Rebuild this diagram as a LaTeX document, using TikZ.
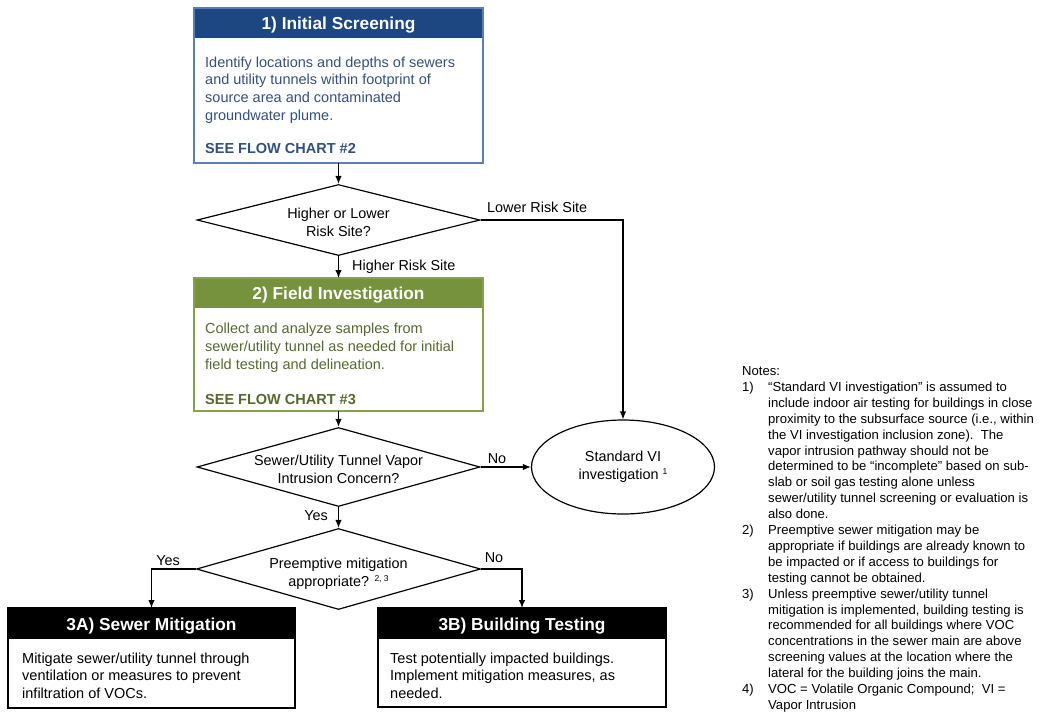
\documentclass[tikz,border=0pt]{standalone}
\usepackage{fontspec}
\setmainfont{Liberation Sans}
\usetikzlibrary{shapes.geometric,arrows.meta}
\definecolor{bluehdr}{HTML}{1D4780}
\definecolor{blueedge}{HTML}{5A7FB5}
\definecolor{bluetxt}{HTML}{34507F}
\definecolor{greenhdr}{HTML}{76923C}
\definecolor{greenedge}{HTML}{85A24E}
\definecolor{greentxt}{HTML}{56692F}
\newcommand{\supnum}[1]{\raisebox{4.5pt}{\fontsize{8.5}{9}\selectfont #1}}
\newcommand{\ind}{\hspace*{26pt}}
\newcommand{\num}[1]{\makebox[26pt][l]{#1}}
\begin{document}
\begin{tikzpicture}[x=1pt,y=-1pt,
  conn/.style={line width=1.2pt,-{Latex[length=8pt,width=6.5pt]}},
  lbl/.style={font=\fontsize{14.4}{17}\selectfont,inner sep=0pt},
  hdrbox/.style={anchor=north west,inner sep=0pt,outer sep=0pt,draw=none},
  hdrtitle/.style={text=white,font=\bfseries\fontsize{17.3}{20}\selectfont,inner sep=0pt},
  framebox/.style={anchor=north west,inner sep=0pt,outer sep=0pt,line width=2pt},
  bodytxt/.style={anchor=north west,inner sep=0pt,align=left,font=\fontsize{14.5}{17.7}\selectfont},
  seetxt/.style={anchor=base west,inner sep=0pt,font=\bfseries\fontsize{14.5}{17.7}\selectfont},
  decision/.style={diamond,draw,line width=1.2pt,inner sep=0pt},
  dtext/.style={align=center,inner sep=0pt,font=\fontsize{14.4}{18}\selectfont},
  notes/.style={anchor=north west,inner sep=0pt,align=left,font=\fontsize{13.1}{15.9}\selectfont}
]
\useasboundingbox (0,0) rectangle (1041,713);
\fill[white] (0,0) rectangle (1041,713);

% Box 1
\node[hdrbox,fill=bluehdr,minimum width=289,minimum height=30] (h1) at (194,8) {};
\node[hdrtitle] (t1) at ([yshift=-2.5]h1.center) {1) Initial Screening};
\node[framebox,draw=blueedge,minimum width=289,minimum height=155] (b1) at (194,8) {};
\node[bodytxt,text=bluetxt] (x1) at (205,56.5) {Identify locations and depths of sewers\\and utility tunnels within footprint of\\source area and contaminated\\groundwater plume.};
\node[seetxt,text=bluetxt] (s1) at (205,153) {SEE FLOW CHART \#2};

% Decision 1
\node[decision,aspect=3.99,minimum width=283,minimum height=71,
  label={[dtext,yshift=-2.5]center:Higher or Lower\\Risk Site?}] (d1) at (338.5,220) {};

% Box 2
\node[hdrbox,fill=greenhdr,minimum width=289,minimum height=30] (h2) at (194,278) {};
\node[hdrtitle] (t2) at ([yshift=-2.5]h2.center) {2) Field Investigation};
\node[framebox,draw=greenedge,minimum width=289,minimum height=133] (b2) at (194,278) {};
\node[bodytxt,text=greentxt,font=\fontsize{14.5}{18}\selectfont] (x2) at (205,322.4) {Collect and analyze samples from\\sewer/utility tunnel as needed for initial\\field testing and delineation.};
\node[seetxt,text=greentxt] (s2) at (205,404) {SEE FLOW CHART \#3};

% Decision 2
\node[decision,aspect=3.58,minimum width=283,minimum height=79,
  label={[dtext,yshift=-2]center:Sewer/Utility Tunnel Vapor\\Intrusion Concern?}] (d2) at (338.5,467) {};

% Ellipse
\node[ellipse,draw,line width=1.2pt,minimum width=183,minimum height=94,inner sep=0pt,align=center,font=\fontsize{14.4}{17.5}\selectfont] (e) at (623,467) {Standard VI\\investigation \supnum{1}};

% Decision 3
\node[decision,aspect=3.51,minimum width=284,minimum height=81,
  label={[dtext,yshift=-4.5]center:Preemptive mitigation\\appropriate? \supnum{2, 3}}] (d3) at (338.5,569) {};

% Box 3A
\node[hdrbox,fill=black,minimum width=287,minimum height=31] (h3a) at (8,608) {};
\node[hdrtitle] (t3a) at ([yshift=-2.5]h3a.center) {3A) Sewer Mitigation};
\node[framebox,draw=black,line width=1.5pt,minimum width=287,minimum height=100] (b3a) at (8,608) {};
\node[bodytxt] (x3a) at (22,652.4) {Mitigate sewer/utility tunnel through\\ventilation or measures to prevent\\infiltration of VOCs.};

% Box 3B
\node[hdrbox,fill=black,minimum width=288,minimum height=31] (h3b) at (378,608) {};
\node[hdrtitle] (t3b) at ([yshift=-2.5]h3b.center) {3B) Building Testing};
\node[framebox,draw=black,line width=1.5pt,minimum width=288,minimum height=99] (b3b) at (378,608) {};
\node[bodytxt] (x3b) at (390,652.4) {Test potentially impacted buildings.\\Implement mitigation measures, as\\needed.};

% Connectors
\draw[conn] (b1.south) -- (d1.north);
\draw[conn] (d1.east) -| (e.north);
\node[lbl,anchor=west] (l1) at (487,207) {Lower Risk Site};
\draw[conn] (d1.south) -- (b2.north);
\node[lbl,anchor=west] (l2) at (352,267) {Higher Risk Site};
\draw[conn] (b2.south) -- (d2.north);
\draw[conn] (d2.east) -- (e.west);
\node[lbl] (l3) at (497,459) {No};
\draw[conn] (d2.south) -- (d3.north);
\node[lbl] (l4) at (316,516) {Yes};
\draw[conn] (d3.west) -| (b3a.north);
\node[lbl] (l5) at (168,561) {Yes};
\draw[conn] (d3.east) -| (b3b.north);
\node[lbl] (l6) at (494,558) {No};

% Notes
\node[notes] (n) at (742,366.3) {Notes:\\
\num{1)}“Standard VI investigation” is assumed to\\
\ind include indoor air testing for buildings in close\\
\ind proximity to the subsurface source (i.e., within\\
\ind the VI investigation inclusion zone).\ \ The\\
\ind vapor intrusion pathway should not be\\
\ind determined to be “incomplete” based on sub-\\
\ind slab or soil gas testing alone unless\\
\ind sewer/utility tunnel screening or evaluation is\\
\ind also done.\\
\num{2)}Preemptive sewer mitigation may be\\
\ind appropriate if buildings are already known to\\
\ind be impacted or if access to buildings for\\
\ind testing cannot be obtained.\\
\num{3)}Unless preemptive sewer/utility tunnel\\
\ind mitigation is implemented, building testing is\\
\ind recommended for all buildings where VOC\\
\ind concentrations in the sewer main are above\\
\ind screening values at the location where the\\
\ind lateral for the building joins the main.\\
\num{4)}VOC = Volatile Organic Compound;\ \ VI =\\
\ind Vapor Intrusion};
\end{tikzpicture}
\end{document}
